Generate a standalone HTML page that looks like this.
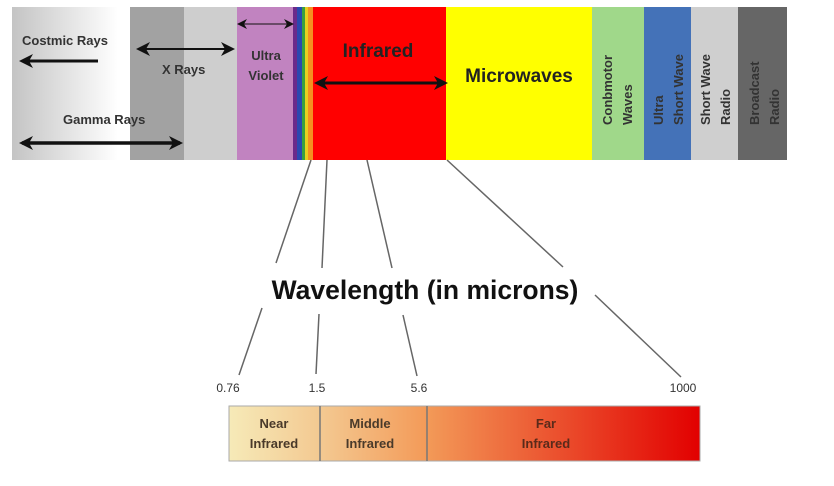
<!DOCTYPE html>
<html><head><meta charset="utf-8"><style>
body{margin:0;width:834px;height:481px;background:#fff;overflow:hidden;font-family:"Liberation Sans",sans-serif;}
svg text{font-family:"Liberation Sans",sans-serif;}
</style></head><body>
<svg width="834" height="481" viewBox="0 0 834 481">
<defs>
<linearGradient id="g1" x1="0" x2="1"><stop offset="0" stop-color="#c4c4c4"/><stop offset="0.9" stop-color="#fff"/><stop offset="1" stop-color="#fff"/></linearGradient>
<linearGradient id="g2" x1="0" x2="1"><stop offset="0" stop-color="#f6eab8"/><stop offset="0.2" stop-color="#f3c890"/><stop offset="0.42" stop-color="#f39a58"/><stop offset="1" stop-color="#e20000"/></linearGradient>
<marker id="ah" markerWidth="14" markerHeight="14" refX="11" refY="7" orient="auto-start-reverse" markerUnits="userSpaceOnUse"><path d="M0,0 L14,7 L0,14 L4,7z" fill="#111"/></marker>
<marker id="ahs" markerWidth="10" markerHeight="10" refX="8" refY="5" orient="auto-start-reverse" markerUnits="userSpaceOnUse"><path d="M0,0 L10,5 L0,10 L3,5z" fill="#111"/></marker>
</defs>
<rect x="12" y="7" width="118" height="153" fill="url(#g1)"/>
<rect x="130" y="7" width="54" height="153" fill="#a2a2a2"/>
<rect x="184" y="7" width="53" height="153" fill="#cecece"/>
<rect x="237" y="7" width="56" height="153" fill="#c183c0"/>
<rect x="293" y="7" width="4" height="153" fill="#6a2a8a"/>
<rect x="297" y="7" width="5" height="153" fill="#2a48b0"/>
<rect x="302" y="7" width="3" height="153" fill="#3aa040"/>
<rect x="305" y="7" width="3" height="153" fill="#e8d020"/>
<rect x="308" y="7" width="5" height="153" fill="#f59020"/>
<rect x="313" y="7" width="133" height="153" fill="#ff0000"/>
<rect x="446" y="7" width="146" height="153" fill="#ffff00"/>
<rect x="592" y="7" width="52" height="153" fill="#a0d88a"/>
<rect x="644" y="7" width="47" height="153" fill="#4472b8"/>
<rect x="691" y="7" width="47" height="153" fill="#cfcfcf"/>
<rect x="738" y="7" width="49" height="153" fill="#666"/>
<g font-weight="bold" fill="#333" font-size="13">
<text x="22" y="45">Costmic Rays</text>
<text x="162" y="74">X Rays</text>
<text x="63" y="124">Gamma Rays</text>
<text x="266" y="60" text-anchor="middle">Ultra</text>
<text x="266" y="80" text-anchor="middle">Violet</text>
<text x="378" y="57" text-anchor="middle" font-size="19" fill="#222">Infrared</text>
<text x="519" y="82" text-anchor="middle" font-size="19" fill="#222">Microwaves</text>
<text transform="translate(612,125) rotate(-90)">Conbmotor</text>
<text transform="translate(632,125) rotate(-90)">Waves</text>
<text transform="translate(663,125) rotate(-90)">Ultra</text>
<text transform="translate(683,125) rotate(-90)">Short Wave</text>
<text transform="translate(710,125) rotate(-90)">Short Wave</text>
<text transform="translate(730,125) rotate(-90)">Radio</text>
<text transform="translate(759,125) rotate(-90)" fill="#333">Broadcast</text>
<text transform="translate(779,125) rotate(-90)" fill="#333">Radio</text>
</g>
<g stroke="#111" fill="none">
<line x1="98" y1="61" x2="22" y2="61" stroke-width="3" marker-end="url(#ah)"/>
<line x1="22" y1="143" x2="180" y2="143" stroke-width="3.5" marker-start="url(#ah)" marker-end="url(#ah)"/>
<line x1="139" y1="49" x2="232" y2="49" stroke-width="2" marker-start="url(#ah)" marker-end="url(#ah)"/>
<line x1="239" y1="24" x2="292" y2="24" stroke-width="1" marker-start="url(#ahs)" marker-end="url(#ahs)"/>
<line x1="317" y1="83" x2="445" y2="83" stroke-width="3" marker-start="url(#ah)" marker-end="url(#ah)"/>
</g>
<g stroke="#666" stroke-width="1.5">
<line x1="311" y1="160" x2="276" y2="263"/>
<line x1="327" y1="160" x2="322" y2="268"/>
<line x1="367" y1="160" x2="392" y2="268"/>
<line x1="447" y1="160" x2="563" y2="267"/>
<line x1="262" y1="308" x2="239" y2="375"/>
<line x1="319" y1="314" x2="316" y2="374"/>
<line x1="403" y1="315" x2="417" y2="376"/>
<line x1="595" y1="295" x2="681" y2="377"/>
</g>
<text x="425" y="299" text-anchor="middle" font-size="26.5" font-weight="bold" fill="#111">Wavelength (in microns)</text>
<g font-size="12" fill="#333" text-anchor="middle">
<text x="228" y="392">0.76</text>
<text x="317" y="392">1.5</text>
<text x="419" y="392">5.6</text>
<text x="683" y="392">1000</text>
</g>
<rect x="229" y="406" width="471" height="55" fill="url(#g2)" stroke="#aaa"/>
<line x1="320" y1="406" x2="320" y2="461" stroke="#777" stroke-width="1.5"/>
<line x1="427" y1="406" x2="427" y2="461" stroke="#777" stroke-width="1.5"/>
<g font-size="13" font-weight="bold" fill="#4a3a2a" text-anchor="middle">
<text x="274" y="428">Near</text><text x="274" y="448">Infrared</text>
<text x="370" y="428">Middle</text><text x="370" y="448">Infrared</text>
<text x="546" y="428" fill="#5a2a1a">Far</text><text x="546" y="448" fill="#5a2a1a">Infrared</text>
</g>
</svg>
</body></html>
